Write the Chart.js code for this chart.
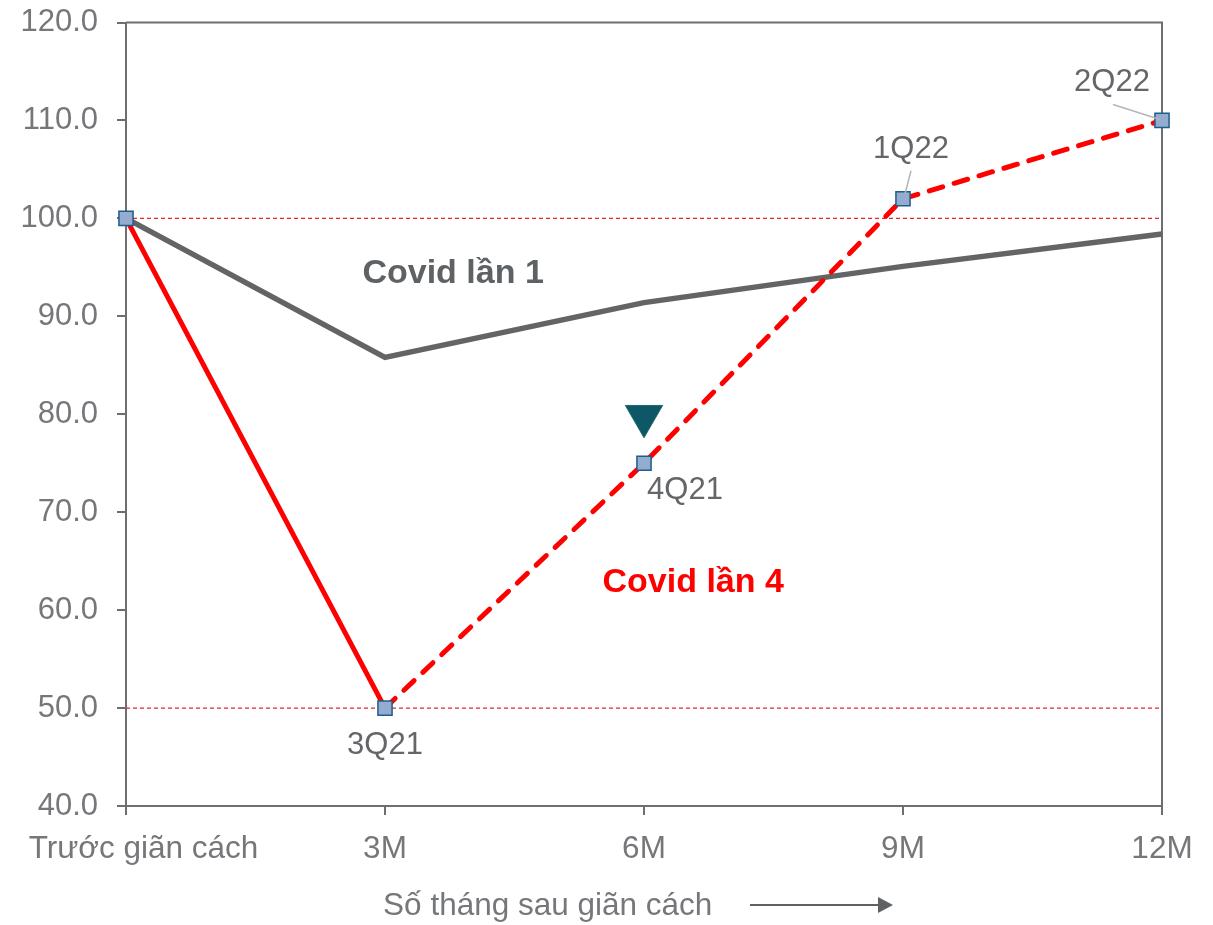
<!DOCTYPE html>
<html>
<head>
<meta charset="utf-8">
<script src="https://cdn.jsdelivr.net/npm/chart.js@4.4.1/dist/chart.umd.min.js"></script>
<style>
  html, body { margin: 0; padding: 0; background: #ffffff; }
  #wrap { position: relative; width: 1213px; height: 925px; }
</style>
</head>
<body>
<div id="wrap"><canvas id="c"></canvas></div>
<script>
// ---- data ----
const categories = ['Trước giãn cách', '3M', '6M', '9M', '12M'];
const covid1 = [100, 85.8, 91.4, 95.1, 98.4];
const covid4 = [100, 50, 75, 102, 110];
const covid4Labels = ['', '3Q21', '4Q21', '1Q22', '2Q22'];
const marker6M = [null, null, 79.8, null, null];
const ref100 = [100, 100, 100, 100, 100];
const ref50 = [50, 50, 50, 50, 50];
const yTicks = { min: 40, max: 120, step: 10 };
const xTitle = 'Số tháng sau giãn cách';
const seriesNames = ['Covid lần 1', 'Covid lần 4'];

const GREY_TEXT = '#75777a';
const AXIS = '#6d6e71';
const FONT = "'Liberation Sans', Arial, sans-serif";
const NB = '\u00a0';

// point label offsets (px) for covid4 labels
const labelStyle = {
  1: { dx: 0, dy: 37 },
  2: { dx: 41, dy: 27 },
  3: { dx: 8, dy: -49, leader: [[2, -5], [8, -28]] },
  4: { dx: -50, dy: -38, leader: [[-49, -16], [-2, -1]] }
};

const decorPlugin = {
  id: 'decor',
  beforeDatasetsDraw(chart) {
    const { ctx, chartArea: a } = chart;
    ctx.save();
    ctx.strokeStyle = AXIS;
    ctx.lineWidth = 2;
    ctx.beginPath();
    ctx.moveTo(a.left, a.top);
    ctx.lineTo(a.right, a.top);
    ctx.lineTo(a.right, a.bottom);
    ctx.stroke();
    ctx.restore();
  },
  afterDatasetsDraw(chart) {
    const { ctx, scales } = chart;
    const x = scales.x, y = scales.y;
    ctx.save();
    const meta = chart.getDatasetMeta(1);
    ctx.font = '31px ' + FONT;
    ctx.fillStyle = '#64666a';
    ctx.textAlign = 'center';
    ctx.textBaseline = 'middle';
    covid4Labels.forEach((lab, i) => {
      if (!lab) return;
      const el = meta.data[i];
      const s = labelStyle[i];
      if (s.leader) {
        ctx.strokeStyle = '#b5b5b5';
        ctx.lineWidth = 1.5;
        ctx.beginPath();
        ctx.moveTo(el.x + s.leader[0][0], el.y + s.leader[0][1]);
        ctx.lineTo(el.x + s.leader[1][0], el.y + s.leader[1][1]);
        ctx.stroke();
      }
      ctx.fillText(lab, el.x + s.dx, el.y + s.dy);
    });
    ctx.font = 'bold 34px ' + FONT;
    ctx.fillStyle = '#5f6265';
    ctx.fillText(seriesNames[0], x.getPixelForValue(1.263), y.getPixelForValue(94.35));
    ctx.fillStyle = '#ff0000';
    ctx.fillText(seriesNames[1], x.getPixelForValue(2.19), y.getPixelForValue(62.8));
    const ay = 905;
    ctx.strokeStyle = '#5f6265';
    ctx.fillStyle = '#5f6265';
    ctx.lineWidth = 2;
    ctx.beginPath();
    ctx.moveTo(750, ay);
    ctx.lineTo(880, ay);
    ctx.stroke();
    ctx.beginPath();
    ctx.moveTo(878, ay - 8);
    ctx.lineTo(893, ay);
    ctx.lineTo(878, ay + 8);
    ctx.closePath();
    ctx.fill();
    ctx.restore();
  }
};

new Chart(document.getElementById('c'), {
  type: 'line',
  data: {
    labels: categories,
    datasets: [
      {
        label: seriesNames[0],
        data: covid1,
        borderColor: '#636466',
        borderWidth: 5.5,
        pointRadius: 0,
        tension: 0,
        order: 2
      },
      {
        label: seriesNames[1],
        data: covid4,
        borderColor: '#ff0000',
        borderWidth: 5,
        borderCapStyle: 'round',
        segment: {
          borderDash: c => c.p0DataIndex >= 1 ? [14, 12] : undefined
        },
        pointStyle: 'rect',
        pointRadius: 10,
        pointBackgroundColor: '#93acd0',
        pointBorderColor: '#1f5d8c',
        pointBorderWidth: 1.5,
        tension: 0,
        order: 1
      },
      {
        label: 'marker',
        data: marker6M,
        showLine: false,
        pointStyle: 'triangle',
        rotation: 180,
        pointRadius: 21.5,
        pointBackgroundColor: '#0d5767',
        pointBorderColor: '#1b6a6a',
        pointBorderWidth: 1,
        order: 0
      },
      {
        label: 'ref100',
        data: ref100,
        borderColor: '#e3262a',
        borderWidth: 1.3,
        borderDash: [4, 3],
        pointRadius: 0,
        order: 3
      },
      {
        label: 'ref50',
        data: ref50,
        borderColor: '#e3262a',
        borderWidth: 1.3,
        borderDash: [4, 3],
        pointRadius: 0,
        order: 3
      }
    ]
  },
  options: {
    responsive: true,
    maintainAspectRatio: false,
    animation: false,
    layout: { padding: { left: 0, right: 51, top: 20, bottom: 0 } },
    plugins: {
      legend: { display: false },
      tooltip: { enabled: false }
    },
    scales: {
      x: {
        offset: false,
        grid: { drawOnChartArea: false, drawTicks: true, tickLength: 9, color: AXIS, lineWidth: 2 },
        border: { display: true, color: AXIS, width: 2 },
        ticks: {
          color: GREY_TEXT,
          font: { family: FONT, size: 31.5 },
          padding: 15,
          maxRotation: 0,
          autoSkip: false,
          callback: function (v, i) {
            const l = this.getLabelForValue(v);
            return i === 0 ? NB.repeat(4) + l : l;
          }
        },
        title: {
          display: true,
          text: xTitle + NB.repeat(22),
          color: GREY_TEXT,
          font: { family: FONT, size: 31.5 },
          padding: { top: 0, bottom: 0 }
        },
        afterFit(scale) { scale.height = 119; scale.paddingLeft = 0; scale.paddingRight = 0; }
      },
      y: {
        min: yTicks.min,
        max: yTicks.max,
        grid: { drawOnChartArea: false, drawTicks: true, tickLength: 9, color: AXIS, lineWidth: 2 },
        border: { display: true, color: AXIS, width: 2 },
        ticks: {
          stepSize: yTicks.step,
          color: GREY_TEXT,
          font: { family: FONT, size: 31 },
          padding: 19,
          callback: v => Number(v).toFixed(1)
        },
        afterFit(scale) { scale.width = 126; scale.paddingTop = 0; scale.paddingBottom = 0; }
      }
    }
  },
  plugins: [decorPlugin]
});
</script>
</body>
</html>
